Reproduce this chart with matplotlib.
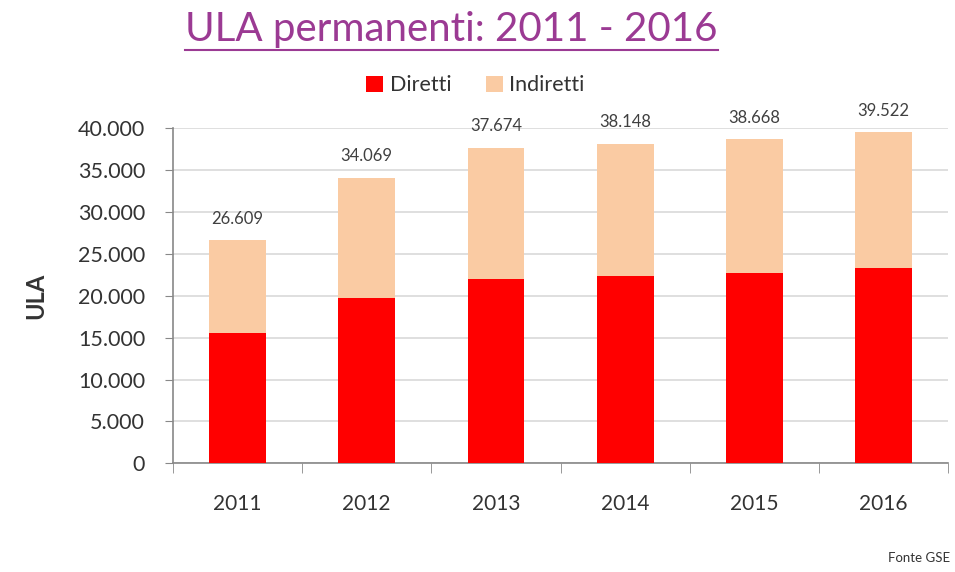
import matplotlib.pyplot as plt
from matplotlib.lines import Line2D
from matplotlib.ticker import FuncFormatter, FixedLocator
import numpy as np

years = ["2011", "2012", "2013", "2014", "2015", "2016"]
totals = [26609, 34069, 37674, 38148, 38668, 39522]
diretti = [15500, 19700, 22000, 22400, 22700, 23300]
indiretti = [t - d for t, d in zip(totals, diretti)]
total_labels = ["26.609", "34.069", "37.674", "38.148", "38.668", "39.522"]

RED = "#FF0000"
PEACH = "#FACBA3"
TEXT = "#333333"

plt.rcParams['font.family'] = ['Lato', 'DejaVu Sans']

fig = plt.figure(figsize=(9.55, 5.72), dpi=100)
ax = fig.add_axes([0.181, 0.19, 0.812, 0.586])

x = np.arange(len(years))
w = 0.44
ax.bar(x, diretti, w, color=RED, label="Diretti", zorder=3)
ax.bar(x, indiretti, w, bottom=diretti, color=PEACH, label="Indiretti", zorder=3)

for xi, t, lab in zip(x, totals, total_labels):
    ax.text(xi, t + 1600, lab, ha="center", va="bottom", fontsize=12, color="#404040")

ax.set_xlim(-0.5, len(years) - 0.5)
ax.set_ylim(0, 40000)
ax.set_yticks(np.arange(0, 40001, 5000))
ax.yaxis.set_major_formatter(FuncFormatter(lambda v, p: f"{int(v):,}".replace(",", ".")))
ax.set_xticks(x)
ax.set_xticklabels(years)
ax.xaxis.set_minor_locator(FixedLocator(np.arange(-0.5, len(years), 1.0)))
ax.tick_params(axis="x", which="major", length=0, pad=22, labelsize=15, labelcolor=TEXT)
ax.tick_params(axis="x", which="minor", length=7, color="#888888", direction="out")
ax.tick_params(axis="y", length=6, color="#888888", labelsize=15.5, labelcolor=TEXT, pad=14)

ax.grid(axis="y", color="#D9D9D9", linewidth=1.2, zorder=0)
for s in ["top", "right"]:
    ax.spines[s].set_visible(False)
for s in ["left", "bottom"]:
    ax.spines[s].set_color("#888888")
    ax.spines[s].set_linewidth(1.2)

ax.set_ylabel("ULA", fontsize=17, fontweight="bold", color=TEXT, labelpad=22)

ax.legend(loc="lower center", bbox_to_anchor=(0.39, 1.04), ncol=2, frameon=False,
          fontsize=15.5, handlelength=0.8, handleheight=0.8, handletextpad=0.3,
          columnspacing=1.6, labelcolor=TEXT)

title = fig.text(0.473, 0.948, "ULA permanenti: 2011 - 2016", ha="center", va="center",
                 fontsize=29, color="#9B3A93")
fig.canvas.draw()
bb = title.get_window_extent().transformed(fig.transFigure.inverted())
fig.add_artist(Line2D([bb.x0, bb.x1], [bb.y0 - 0.003, bb.y0 - 0.003],
                      color="#9B3A93", linewidth=1.5, transform=fig.transFigure))

fig.text(0.995, 0.025, "Fonte GSE", ha="right", va="center", fontsize=9.5, color=TEXT)

fig.savefig("out.png", dpi=100)
